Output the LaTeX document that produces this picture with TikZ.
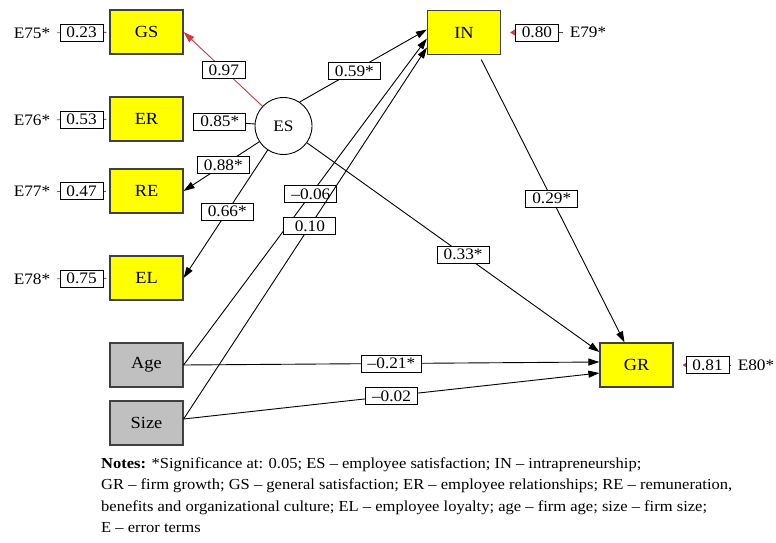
\documentclass[tikz,border=0pt]{standalone}
\usepackage{fontspec}
\setmainfont{Liberation Serif}[FakeStretch=1.08]
\usetikzlibrary{arrows.meta}

\definecolor{boxyellow}{RGB}{255,255,0}
\definecolor{boxgray}{RGB}{192,192,192}
\definecolor{edgegray}{RGB}{64,64,64}
\definecolor{pathred}{RGB}{215,55,55}
\definecolor{errline}{RGB}{140,80,80}

\tikzset{
  varbox/.style={draw=edgegray, line width=1.2pt, minimum width=73pt, minimum height=44pt,
    inner sep=0pt, font=\fontsize{17}{19}\selectfont},
  observed/.style={varbox, fill=boxyellow},
  control/.style={varbox, fill=boxgray},
  latent/.style={circle, draw=black, line width=0.9pt, fill=white, minimum size=57pt,
    inner sep=0pt, font=\fontsize{16}{18}\selectfont},
  lbl/.style={draw=black, fill=white, line width=0.8pt, inner xsep=6.5pt, inner ysep=0pt,
    minimum height=17pt, font=\fontsize{16}{16}\selectfont},
  wide/.style={minimum width=52pt},
  errtxt/.style={font=\fontsize{16}{16}\selectfont},
  conn/.style={draw=black, line width=0.9pt},
  arr/.style={conn, -{Triangle[length=11pt,width=7pt]}},
  redarr/.style={draw=pathred, line width=0.9pt, -{Triangle[length=11pt,width=7pt,color=pathred]}},
  errleft/.style={draw=errline, line width=0.8pt, shorten <=3pt, shorten >=3pt},
  errright/.style={draw=black!70, line width=0.8pt, shorten <=3pt, shorten >=9pt,
    -{Triangle[length=5pt,width=6pt,color=pathred]}},
  notes/.style={anchor=base west, inner sep=0pt, font=\fontsize{15.3}{17}\selectfont}
}

\begin{document}
\begin{tikzpicture}[x=1pt,y=-1pt]
\useasboundingbox (0,0) rectangle (776,543);

% indicator variables of employee satisfaction
\node[observed] (GS) at (146.5,32) {GS};
\node[observed] (ER) at (146.5,119) {ER};
\node[observed] (RE) at (146.5,191) {RE};
\node[observed] (EL) at (146.5,278) {EL};

% control variables
\node[control] (Age) at (146.5,365) {Age};
\node[control] (Size) at (146.5,423) {Size};

% latent construct and outcomes
\node[latent] (ES) at (283.5,126) {ES};
\node[observed] (IN) at (464,32.5) {IN};
\node[observed] (GR) at (636.5,365) {GR};

% error terms
\node[errtxt] (E75) at (32,33) {E75*};
\node[errtxt] (E76) at (32,120) {E76*};
\node[errtxt] (E77) at (32,191) {E77*};
\node[errtxt] (E78) at (32,279) {E78*};
\node[errtxt] (E79) at (588,32.5) {E79*};
\node[errtxt] (E80) at (756,365) {E80*};

\draw[errleft] (E75) -- (GS) node[lbl,pos=0.5] (l75) {0.23};
\draw[errleft] (E76) -- (ER) node[lbl,pos=0.5] (l76) {0.53};
\draw[errleft] (E77) -- (RE) node[lbl,pos=0.5] (l77) {0.47};
\draw[errleft] (E78) -- (EL) node[lbl,pos=0.5] (l78) {0.75};
\draw[errright] (E79) -- (IN) node[lbl,pos=0.45] (l79) {0.80};
\draw[errright] (E80) -- (GR) node[lbl,pos=0.44] (l80) {0.81};

% measurement paths from ES
\draw[redarr] (ES) -- (GS.east) node[lbl,pos=0.49] (lGS) {0.97};
\draw[conn, shorten >=10pt] (ES) -- (ER.east) node[lbl,pos=0.49] (lER) {0.85*};
\draw[arr] (ES) -- (RE.east) node[lbl,pos=0.475] (lRE) {0.88*};
\draw[arr] (ES) -- (EL.east) node[lbl,pos=0.48] (lEL) {0.66*};

% structural paths
\draw[arr] (ES.56) -- ([yshift=3pt]IN.west) node[lbl,pos=0.43] (lESIN) {0.59*};
\draw[arr] (ES) -- ([yshift=13pt]GR.west) node[lbl,pos=0.534] (lESGR) {0.33*};
\draw[arr, shorten <=5pt] ([xshift=15pt]IN.south) -- ([xshift=-12pt]GR.north) node[lbl,pos=0.5] (lINGR) {0.29*};
\draw[arr] (Age.east) -- ([yshift=-6pt]IN.west) node[lbl,wide,pos=0.523] (lAgeIN) {–0.06};
\draw[arr] ([yshift=4pt]Size.east) -- ([yshift=-15pt]IN.west) node[lbl,wide,pos=0.519] (lSizeIN) {0.10};
\draw[arr] (Age.east) -- ([yshift=3pt]GR.west) node[lbl,wide,pos=0.5] (lAgeGR) {–0.21*};
\draw[arr] ([yshift=4pt]Size.east) -- ([yshift=-8pt]GR.west) node[lbl,wide,pos=0.5] (lSizeGR) {–0.02};

% notes
\node[notes] (n1) at (101,468) {\textbf{Notes:} *Significance at: 0.05; ES – employee satisfaction; IN – intrapreneurship;};
\node[notes] (n2) at (101,489.5) {GR – firm growth; GS – general satisfaction; ER – employee relationships; RE – remuneration,};
\node[notes] (n3) at (101,511) {benefits and organizational culture; EL – employee loyalty; age – firm age; size – firm size;};
\node[notes] (n4) at (101,532.5) {E – error terms};
\end{tikzpicture}
\end{document}
